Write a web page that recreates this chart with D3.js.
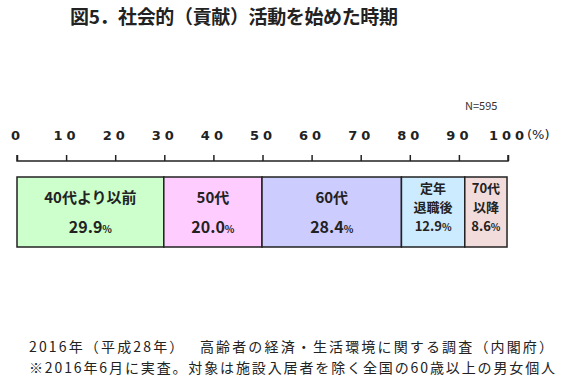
<!DOCTYPE html>
<html>
<head>
<meta charset="utf-8">
<script src="https://cdn.jsdelivr.net/npm/d3@7"></script>
<style>
  body { margin: 0; background: #fff; }
  svg { font-family: "Noto Sans CJK JP", "Noto Sans", sans-serif; }
</style>
</head>
<body>
<div id="wrapper"></div>
<script>
// data
const categories = ["40代より以前", "50代", "60代", "定年退職後", "70代以降"]
const labelLines = [["40代より以前"], ["50代"], ["60代"], ["定年", "退職後"], ["70代", "以降"]]
const values = [29.9, 20.0, 28.4, 12.9, 8.6]
const colors = ["#ccffcc", "#ffccff", "#ccccff", "#cdebff", "#f2dcdb"]
const tickValues = [0, 10, 20, 30, 40, 50, 60, 70, 80, 90, 100]

const title = "図5．社会的（貢献）活動を始めた時期"
const note = "N=595"
const footer = [
  "2016年（平成28年）　 高齢者の経済・生活環境に関する調査（内閣府）",
  "※2016年6月に実査。対象は施設入居者を除く全国の60歳以上の男女個人"
]

const width = 570
const height = 389

const svg = d3.select("#wrapper")
  .append("svg")
    .attr("width", width)
    .attr("height", height)

// scale
const xScale = d3.scaleLinear()
  .domain([0, 100])
  .range([17, 508])

const barTop = 177
const barBottom = 247

// title
svg.append("text")
  .attr("x", 70)
  .attr("y", 24)
  .attr("font-size", 19)
  .attr("font-weight", "bold")
  .attr("textLength", 328)
  .attr("fill", "#222")
  .text(title)

svg.append("text")
  .attr("x", 465)
  .attr("y", 110)
  .attr("font-size", 11)
  .attr("fill", "#333")
  .text(note)

// axis
const xAxisGenerator = d3.axisTop(xScale)
  .tickValues(tickValues)
  .tickSize(6)
  .tickFormat(d => d)

const xAxis = svg.append("g")
  .attr("transform", `translate(0, 161)`)
  .call(xAxisGenerator)

xAxis.select(".domain")
  .attr("d", `M${xScale(0)},-6V0H${xScale(100)}V-6`)
  .attr("stroke", "#222")
  .attr("stroke-width", 1.5)
xAxis.selectAll(".tick line")
  .attr("stroke", "#222")
  .attr("stroke-width", 1.5)
xAxis.selectAll(".tick text")
  .attr("y", -21)
  .attr("font-size", 13)
  .attr("font-weight", "bold")
  .attr("letter-spacing", 4)
  .attr("font-family", "Verdana, 'DejaVu Sans', sans-serif")
  .attr("fill", "#222")

svg.append("text")
  .attr("x", 527)
  .attr("y", 139)
  .attr("font-size", 13)
  .attr("font-family", "'DejaVu Sans', sans-serif")
  .attr("fill", "#222")
  .text("(%)")

// bars
const ends = d3.cumsum(values)
const segments = values.map((v, i) => ({
  name: categories[i],
  lines: labelLines[i],
  value: v,
  x0: ends[i] - v,
  x1: ends[i],
  color: colors[i],
}))

const bars = svg.append("g")
  .selectAll("g")
  .data(segments)
  .join("g")

bars.append("rect")
  .attr("x", d => xScale(d.x0))
  .attr("y", barTop)
  .attr("width", d => xScale(d.x1) - xScale(d.x0))
  .attr("height", barBottom - barTop)
  .attr("fill", d => d.color)
  .attr("stroke", "#222")
  .attr("stroke-width", 1.5)

bars.each(function(d) {
  const g = d3.select(this)
  const cx = (xScale(d.x0) + xScale(d.x1)) / 2
  const single = d.lines.length === 1
  const lineYs = single ? [203] : [193, 212]
  d.lines.forEach((line, j) => {
    g.append("text")
      .attr("x", cx)
      .attr("y", lineYs[j])
      .attr("text-anchor", "middle")
      .attr("font-size", single ? 15 : 13)
      .attr("font-weight", "bold")
      .attr("fill", "#222")
      .text(line)
  })
  const t = g.append("text")
    .attr("x", cx)
    .attr("y", single ? 233 : 231)
    .attr("text-anchor", "middle")
    .attr("font-size", single ? 16 : 13)
    .attr("font-weight", "bold")
    .attr("fill", "#222")
  t.append("tspan").text(d.value.toFixed(1))
  t.append("tspan").attr("font-size", 10).text("%")
})

// footer
svg.append("g")
  .selectAll("text")
  .data(footer)
  .join("text")
    .attr("x", 29)
    .attr("y", (d, i) => 352 + i * 21)
    .attr("font-size", 14)
    .attr("textLength", (d, i) => i === 0 ? 524 : 526)
    .attr("fill", "#222")
    .text(d => d)
</script>
</body>
</html>
